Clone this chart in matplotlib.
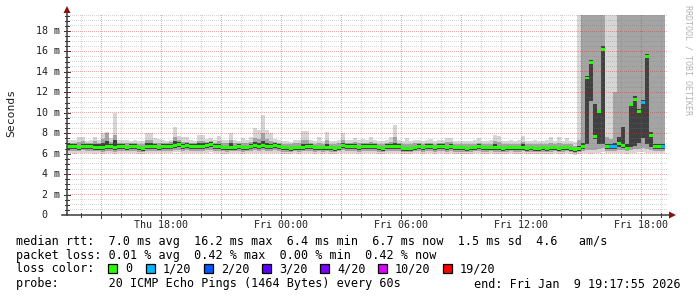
import numpy as np
import matplotlib
matplotlib.use("Agg")
import matplotlib.pyplot as plt
from matplotlib import transforms
from matplotlib.lines import Line2D
from matplotlib.patches import Polygon, Rectangle

W, H = 697, 297

# ── Data ───────────────────────────────────────────────────────────────────────
# 150 consolidated columns of 12 minutes, hours counted from Thu 00:00
col_start = 13.2
col_step = 0.2
view = (13.2986, 43.2986)   # Thu 13:17:55 .. Fri 19:17:55

rtt_min = [
    6.1, 6.1, 6.0, 6.1, 6.1, 6.1, 6.1, 6.0, 6.1, 6.0,
    6.1, 6.1, 6.0, 6.1, 6.1, 6.1, 6.1, 6.1, 6.0, 6.0,
    6.1, 6.1, 6.1, 6.1, 6.1, 6.1, 6.1, 6.2, 6.2, 6.1,
    6.1, 6.1, 6.1, 6.1, 6.1, 6.1, 6.2, 6.1, 6.1, 6.0,
    6.0, 6.1, 6.1, 6.1, 6.0, 6.1, 6.1, 6.1, 6.1, 6.1,
    6.1, 6.1, 6.1, 6.1, 6.0, 6.0, 6.0, 6.1, 6.0, 6.1,
    6.1, 6.1, 6.0, 6.1, 6.0, 6.1, 6.0, 6.0, 6.1, 6.1,
    6.1, 6.1, 6.1, 6.0, 6.1, 6.1, 6.1, 6.1, 6.0, 6.0,
    6.1, 6.1, 6.1, 6.1, 6.0, 6.0, 6.0, 6.1, 6.1, 6.0,
    6.1, 6.1, 6.0, 6.1, 6.1, 6.0, 6.1, 6.0, 6.0, 6.0,
    6.0, 6.0, 6.1, 6.1, 6.0, 6.0, 6.1, 6.0, 6.0, 6.0,
    6.0, 6.1, 6.0, 6.0, 6.1, 6.0, 6.0, 6.0, 6.0, 6.0,
    6.0, 6.0, 6.1, 6.0, 6.0, 6.1, 6.0, 5.9, 6.0, 6.1,
    6.1, 6.0, 6.1, 6.1, 6.2, 6.1, 6.1, 6.1, 6.1, 6.1,
    6.0, 6.1, 6.1, 6.2, 6.2, 6.1, 6.1, 6.1, 6.1, 6.1,
]
rtt_lo = [
    6.3, 6.3, 6.3, 6.3, 6.4, 6.3, 6.3, 6.3, 6.3, 6.2,
    6.3, 6.3, 6.2, 6.3, 6.3, 6.3, 6.3, 6.3, 6.2, 6.2,
    6.3, 6.3, 6.3, 6.3, 6.3, 6.3, 6.3, 6.4, 6.4, 6.3,
    6.4, 6.3, 6.3, 6.3, 6.3, 6.4, 6.4, 6.3, 6.3, 6.3,
    6.2, 6.3, 6.3, 6.3, 6.2, 6.3, 6.3, 6.4, 6.3, 6.4,
    6.3, 6.3, 6.4, 6.3, 6.2, 6.2, 6.2, 6.3, 6.2, 6.3,
    6.3, 6.3, 6.2, 6.3, 6.2, 6.3, 6.2, 6.2, 6.3, 6.4,
    6.3, 6.3, 6.3, 6.2, 6.3, 6.3, 6.3, 6.3, 6.2, 6.2,
    6.3, 6.3, 6.3, 6.3, 6.2, 6.2, 6.2, 6.3, 6.3, 6.2,
    6.3, 6.3, 6.2, 6.3, 6.3, 6.2, 6.3, 6.2, 6.2, 6.2,
    6.2, 6.2, 6.3, 6.3, 6.2, 6.2, 6.3, 6.2, 6.2, 6.2,
    6.2, 6.3, 6.2, 6.2, 6.3, 6.2, 6.2, 6.2, 6.2, 6.2,
    6.2, 6.2, 6.3, 6.2, 6.2, 6.3, 6.2, 6.1, 6.2, 6.3,
    6.4, 6.4, 6.4, 6.5, 6.6, 6.3, 6.3, 6.3, 6.4, 6.4,
    6.3, 6.4, 6.5, 6.5, 6.6, 6.5, 6.4, 6.3, 6.3, 6.3,
]
rtt_core_lo = [
    6.5, 6.5, 6.5, 6.4, 6.5, 6.5, 6.5, 6.4, 6.4, 6.4,
    6.5, 6.5, 6.4, 6.5, 6.5, 6.4, 6.5, 6.5, 6.4, 6.3,
    6.5, 6.5, 6.5, 6.4, 6.5, 6.5, 6.5, 6.6, 6.7, 6.5,
    6.6, 6.5, 6.5, 6.5, 6.5, 6.6, 6.7, 6.5, 6.5, 6.4,
    6.4, 6.4, 6.4, 6.5, 6.4, 6.4, 6.5, 6.6, 6.5, 6.6,
    6.5, 6.5, 6.6, 6.5, 6.4, 6.4, 6.3, 6.4, 6.4, 6.4,
    6.5, 6.5, 6.4, 6.4, 6.4, 6.4, 6.4, 6.3, 6.4, 6.6,
    6.5, 6.5, 6.5, 6.4, 6.5, 6.5, 6.5, 6.5, 6.4, 6.3,
    6.5, 6.5, 6.5, 6.5, 6.3, 6.3, 6.3, 6.4, 6.5, 6.4,
    6.5, 6.5, 6.4, 6.5, 6.5, 6.4, 6.5, 6.4, 6.4, 6.4,
    6.3, 6.4, 6.4, 6.5, 6.4, 6.4, 6.4, 6.4, 6.4, 6.3,
    6.4, 6.4, 6.4, 6.4, 6.4, 6.3, 6.4, 6.3, 6.3, 6.4,
    6.3, 6.4, 6.4, 6.3, 6.4, 6.4, 6.3, 6.2, 6.3, 6.5,
    6.9, 11.2, 7.4, 6.9, 6.9, 6.5, 6.5, 6.5, 6.7, 6.6,
    6.4, 6.7, 6.8, 7.0, 7.5, 6.9, 6.7, 6.5, 6.5, 6.5,
]
rtt_median = [
    6.7, 6.7, 6.7, 6.6, 6.7, 6.7, 6.7, 6.6, 6.6, 6.6,
    6.7, 6.7, 6.6, 6.7, 6.7, 6.6, 6.7, 6.7, 6.6, 6.5,
    6.7, 6.7, 6.7, 6.6, 6.7, 6.7, 6.7, 6.8, 6.9, 6.7,
    6.8, 6.7, 6.7, 6.7, 6.7, 6.8, 6.9, 6.7, 6.7, 6.6,
    6.6, 6.6, 6.6, 6.7, 6.6, 6.6, 6.7, 6.8, 6.7, 6.8,
    6.7, 6.7, 6.8, 6.7, 6.6, 6.6, 6.5, 6.6, 6.6, 6.6,
    6.7, 6.7, 6.6, 6.6, 6.6, 6.6, 6.6, 6.5, 6.6, 6.8,
    6.7, 6.7, 6.7, 6.6, 6.7, 6.7, 6.7, 6.7, 6.6, 6.5,
    6.7, 6.7, 6.7, 6.7, 6.5, 6.5, 6.5, 6.6, 6.7, 6.6,
    6.7, 6.7, 6.6, 6.7, 6.7, 6.6, 6.7, 6.6, 6.6, 6.6,
    6.5, 6.6, 6.6, 6.7, 6.6, 6.6, 6.6, 6.6, 6.6, 6.5,
    6.6, 6.6, 6.6, 6.6, 6.6, 6.5, 6.6, 6.5, 6.5, 6.6,
    6.5, 6.6, 6.6, 6.5, 6.6, 6.6, 6.5, 6.4, 6.5, 6.7,
    13.4, 14.9, 7.7, 10.1, 16.2, 6.7, 6.7, 6.7, 7.0, 6.8,
    6.5, 10.8, 11.3, 10.1, 11.0, 15.5, 7.8, 6.7, 6.7, 6.7,
]
rtt_core_hi = [
    6.9, 6.9, 6.9, 6.8, 6.9, 6.9, 6.9, 6.9, 6.9, 7.0,
    7.2, 6.9, 7.3, 6.9, 6.9, 6.8, 6.9, 6.9, 6.8, 6.7,
    7.0, 7.0, 6.9, 6.8, 6.9, 6.9, 6.9, 7.2, 7.1, 6.9,
    7.0, 6.9, 6.9, 7.0, 7.0, 7.0, 7.1, 6.9, 6.9, 6.8,
    6.8, 7.0, 6.8, 6.9, 6.8, 6.8, 6.9, 7.1, 7.0, 7.2,
    7.0, 6.9, 7.0, 6.9, 6.8, 6.8, 6.7, 6.8, 6.8, 6.9,
    6.9, 6.9, 6.8, 6.8, 6.8, 6.9, 6.8, 6.7, 6.8, 7.0,
    6.9, 6.9, 6.9, 6.8, 6.9, 6.9, 6.9, 6.9, 6.8, 6.7,
    6.9, 6.9, 7.0, 6.9, 6.7, 6.7, 6.7, 6.8, 6.9, 6.8,
    6.9, 6.9, 6.8, 6.9, 6.9, 6.8, 6.9, 6.8, 6.8, 6.8,
    6.7, 6.8, 6.8, 6.9, 6.8, 6.8, 6.8, 6.9, 6.8, 6.7,
    6.8, 6.8, 6.8, 6.8, 6.9, 6.7, 6.8, 6.7, 6.7, 6.8,
    6.7, 6.8, 6.8, 6.7, 6.8, 6.8, 6.7, 6.6, 6.8, 7.0,
    13.6, 15.2, 10.9, 10.3, 16.5, 6.9, 6.9, 7.0, 7.6, 8.6,
    6.9, 11.0, 11.6, 10.4, 11.3, 15.8, 8.1, 6.9, 6.9, 6.9,
]
rtt_hi = [
    7.0, 7.0, 7.0, 7.1, 7.2, 7.0, 7.0, 7.2, 7.0, 7.4,
    8.0, 7.1, 7.8, 7.0, 7.0, 7.0, 7.0, 7.0, 6.9, 6.9,
    7.3, 7.3, 7.0, 7.0, 7.0, 7.0, 7.1, 7.6, 7.3, 7.1,
    7.1, 7.0, 7.0, 7.2, 7.2, 7.1, 7.2, 7.0, 7.2, 7.0,
    7.0, 7.3, 7.0, 7.0, 7.0, 7.0, 7.1, 7.5, 7.4, 8.0,
    7.4, 7.2, 7.1, 7.0, 6.9, 6.9, 6.9, 7.0, 7.0, 7.3,
    7.3, 7.0, 6.9, 7.0, 6.9, 7.3, 6.9, 6.9, 7.0, 7.3,
    7.0, 7.0, 7.1, 7.0, 7.0, 7.0, 7.1, 7.0, 6.9, 6.9,
    7.0, 7.1, 7.6, 7.0, 6.9, 6.9, 6.9, 7.0, 7.0, 6.9,
    7.0, 7.0, 6.9, 7.0, 7.0, 7.1, 7.1, 6.9, 6.9, 6.9,
    6.9, 6.9, 6.9, 7.0, 6.9, 6.9, 6.9, 7.2, 7.1, 6.9,
    6.9, 6.9, 6.9, 6.9, 7.1, 6.9, 6.9, 6.9, 6.9, 6.9,
    6.9, 7.0, 6.9, 7.0, 6.9, 6.9, 6.9, 6.8, 7.3, 21.0,
    24.0, 25.0, 22.0, 23.0, 26.0, 7.6, 7.4, 12.0, 22.0, 24.0,
    20.0, 25.0, 24.0, 23.0, 22.0, 26.0, 21.0, 20.0, 24.0, 22.0,
]
rtt_max = [
    7.3, 7.3, 7.3, 7.6, 7.6, 7.2, 7.3, 7.6, 7.3, 8.0,
    8.1, 7.5, 10.0, 7.3, 7.3, 7.3, 7.2, 7.3, 7.2, 7.2,
    8.0, 8.0, 7.5, 7.4, 7.3, 7.2, 7.3, 8.6, 7.7, 7.6,
    7.6, 7.3, 7.2, 7.8, 7.8, 7.4, 7.5, 7.3, 7.7, 7.3,
    7.3, 8.0, 7.3, 7.2, 7.5, 7.3, 7.6, 8.5, 8.3, 9.8,
    8.3, 8.0, 7.4, 7.3, 7.2, 7.2, 7.1, 7.3, 7.3, 8.2,
    8.2, 7.3, 7.2, 7.6, 7.2, 8.1, 7.2, 7.2, 7.3, 8.0,
    7.3, 7.3, 7.5, 7.3, 7.4, 7.3, 7.6, 7.3, 7.2, 7.2,
    7.3, 7.6, 8.8, 7.3, 7.2, 7.5, 7.2, 7.3, 7.3, 7.2,
    7.3, 7.4, 7.2, 7.3, 7.3, 7.5, 7.5, 7.2, 7.2, 7.2,
    7.2, 7.2, 7.3, 7.5, 7.2, 7.2, 7.3, 7.8, 7.7, 7.2,
    7.2, 7.3, 7.2, 7.3, 7.7, 7.2, 7.2, 7.3, 7.2, 7.2,
    7.3, 7.6, 7.2, 7.6, 7.2, 7.5, 7.2, 7.1, 22.0, 28.0,
    30.0, 32.0, 27.0, 29.0, 33.0, 24.0, 21.0, 23.0, 27.0, 30.0,
    26.0, 31.0, 29.0, 28.0, 27.0, 32.0, 26.0, 25.0, 27.0, 25.0,
]
# lost pings out of 20 per column
loss = [
    0, 0, 0, 0, 0, 0, 0, 0, 0, 0, 0, 0, 0, 0, 0, 0, 0, 0, 0, 0,
    0, 0, 0, 0, 0, 0, 0, 0, 0, 0, 0, 0, 0, 0, 0, 0, 0, 0, 0, 0,
    0, 0, 0, 0, 0, 0, 0, 0, 0, 0, 0, 0, 0, 0, 0, 0, 0, 0, 0, 0,
    0, 0, 0, 0, 0, 0, 0, 0, 0, 0, 0, 0, 0, 0, 0, 0, 0, 0, 0, 0,
    0, 0, 0, 0, 0, 0, 0, 0, 0, 0, 0, 0, 0, 0, 0, 0, 0, 0, 0, 0,
    0, 0, 0, 0, 0, 0, 0, 0, 0, 0, 0, 0, 0, 0, 0, 0, 0, 0, 0, 0,
    0, 0, 0, 0, 0, 0, 0, 0, 0, 0, 0, 0, 0, 0, 0, 0, 1, 1, 0, 0,
    0, 0, 0, 0, 1, 0, 0, 0, 0, 1,
]

xtick_hours = [18, 24, 30, 36, 42]
xtick_labels = ["Thu 18:00", "Fri 00:00", "Fri 06:00", "Fri 12:00", "Fri 18:00"]
ytick_values = [0, 2, 4, 6, 8, 10, 12, 14, 16, 18]
ytick_labels = [" 0", " 2 m", " 4 m", " 6 m", " 8 m", "10 m", "12 m", "14 m", "16 m", "18 m"]

loss_thresholds = [0, 1, 2, 3, 4, 10, 19]
loss_labels = ["0", "1/20", "2/20", "3/20", "4/20", "10/20", "19/20"]
loss_colors = ["#26ff00", "#00b8ff", "#0059ff", "#5e00ff", "#7e00ff", "#dd00ff", "#ff0000"]

legend_rtt = "median rtt:  7.0 ms avg  16.2 ms max  6.4 ms min  6.7 ms now  1.5 ms sd  4.6   am/s"
legend_loss = "packet loss: 0.01 % avg  0.42 % max  0.00 % min  0.42 % now"
legend_probe = "probe:       20 ICMP Echo Pings (1464 Bytes) every 60s"
legend_end = "end: Fri Jan  9 19:17:55 2026"

# ── Figure ─────────────────────────────────────────────────────────────────────
MONO = "DejaVu Sans Mono"
Y_TOP = 19.57
RECT = [67 / W, 1 - 215 / H, 600 / W, 200 / H]

fig = plt.figure(figsize=(W / 100, H / 100), dpi=100)
fig.patch.set_facecolor("white")
px = transforms.Affine2D().scale(1 / W, -1 / H).translate(0, 1) + fig.transFigure

ax = fig.add_axes(RECT, zorder=0)
ax.set_xlim(view)
ax.set_ylim(0, Y_TOP)
ax.set_axis_off()
x_data_y_px = transforms.blended_transform_factory(ax.transData, px)
x_px_y_data = transforms.blended_transform_factory(px, ax.transData)

left = col_start + col_step * np.arange(len(rtt_median))
mn, lo, clo = np.array(rtt_min), np.array(rtt_lo), np.array(rtt_core_lo)
med, chi, hi, mx = np.array(rtt_median), np.array(rtt_core_hi), np.array(rtt_hi), np.array(rtt_max)

# smoke: outer, middle and core spread of the pings
for bottom, top, shade in [(mn, mx, "#d6d6d6"), (lo, hi, "#a4a4a4"), (clo, chi, "#404040")]:
    ax.bar(left, top - bottom, width=col_step, bottom=bottom, align="edge",
           color=shade, linewidth=0, zorder=1)

# grid: pixel-exact dotted lines laid over the smoke as a figure image
grid_img = np.zeros((H, W, 4))
minor_rgba = (0.50, 0.50, 0.50, 0.32)
major_rgba = (0.88, 0.15, 0.15, 0.40)
x0, y0 = ax.transData.transform((view[0], 0))
x1, y1 = ax.transData.transform((view[1], Y_TOP))
c0, c1 = int(np.floor(x0)), int(np.floor(x1))
r_bot, r_top = H - 1 - int(np.floor(y0)), H - int(np.floor(y1))
for h in range(14, 44):
    c = int(np.floor(ax.transData.transform((h, 0))[0]))
    grid_img[r_top:r_bot + 1:2, c] = major_rgba if h % 3 == 0 else minor_rgba
for v in np.arange(0.5, Y_TOP, 0.5):
    r = H - 1 - int(np.floor(ax.transData.transform((view[0], v))[1]))
    grid_img[r, c0 + 1:c1 + 1:2] = major_rgba if v % 2 == 0 else minor_rgba
fig.figimage(grid_img, xo=0, yo=0, origin="upper", zorder=1)

# median marks coloured by loss, on an overlay axes above the grid
def loss_color(n):
    idx = max(i for i, t in enumerate(loss_thresholds) if n >= t)
    return loss_colors[idx]

ax_med = fig.add_axes(RECT, zorder=2)
ax_med.set_xlim(view)
ax_med.set_ylim(0, Y_TOP)
ax_med.set_axis_off()
ax_med.patch.set_visible(False)
ax_med.bar(left, 0.27, width=col_step, bottom=med - 0.135, align="edge",
           color=[loss_color(n) for n in loss], linewidth=0)

# axes lines, ticks and arrows
axis_col = "#3a3a3a"
fig.add_artist(Line2D([67, 67], [215, 12], transform=px, color=axis_col, lw=1.1, zorder=3))
fig.add_artist(Line2D([62, 670], [215, 215], transform=px, color=axis_col, lw=1.1, zorder=3))
fig.add_artist(Polygon([(63.5, 13), (70.5, 13), (67, 6)], closed=True, transform=px,
                       color="#8b1010", lw=0, zorder=3))
fig.add_artist(Polygon([(669, 211.5), (669, 218.5), (676, 215)], closed=True, transform=px,
                       color="#8b1010", lw=0, zorder=3))
for v in np.arange(0.5, Y_TOP, 0.5):
    n = 3 if v % 2 == 0 else 2
    ax.add_line(Line2D([67 - n, 67 + n], [v, v], transform=x_px_y_data, color=axis_col,
                       lw=0.72, clip_on=False))
for h in range(14, 44):
    n = 3 if h % 3 == 0 else 2
    ax.add_line(Line2D([h, h], [215 - n, 215 + n], transform=x_data_y_px, color=axis_col,
                       lw=0.72, clip_on=False))

# tick labels
for h, lab in zip(xtick_hours, xtick_labels):
    ax.text(h, 225, lab, transform=x_data_y_px, ha="center", va="center",
            family=MONO, fontsize=7.2, color="#202020")
for v, lab in zip(ytick_values, ytick_labels):
    ax.text(36, v, lab, transform=x_px_y_data, ha="left", va="center",
            family=MONO, fontsize=7.2, color="#202020")

fig.text(11 / W, 1 - 113 / H, "Seconds", rotation=90, ha="center", va="center",
         family=MONO, fontsize=8.2, color="#202020")
fig.text(688 / W, 1 - 60 / H, "RRDTOOL / TOBI OETIKER", rotation=-90, ha="center",
         va="center", family=MONO, fontsize=6.0, color="#b4b4b4")

# legend block
LEG = 8.5
for y, line in [(241, legend_rtt), (255, legend_loss), (284, legend_probe)]:
    fig.text(16 / W, 1 - y / H, line, ha="left", va="center", family=MONO,
             fontsize=LEG, color="#000000")
fig.text(681 / W, 1 - 284 / H, legend_end, ha="right", va="center", family=MONO,
         fontsize=LEG, color="#000000")
fig.text(16 / W, 1 - 269 / H, "loss color:", ha="left", va="center", family=MONO,
         fontsize=LEG, color="#000000")
box_x = [108, 146, 204, 262, 320, 378, 443]
for bx, lab, col in zip(box_x, loss_labels, loss_colors):
    fig.add_artist(Rectangle((bx, 264), 9, 9, transform=px, facecolor=col,
                             edgecolor="#000000", lw=0.9))
    fig.text((bx + 17) / W, 1 - 269 / H, lab, ha="left", va="center", family=MONO,
             fontsize=LEG, color="#000000")

fig.savefig("out.png", dpi=100)
